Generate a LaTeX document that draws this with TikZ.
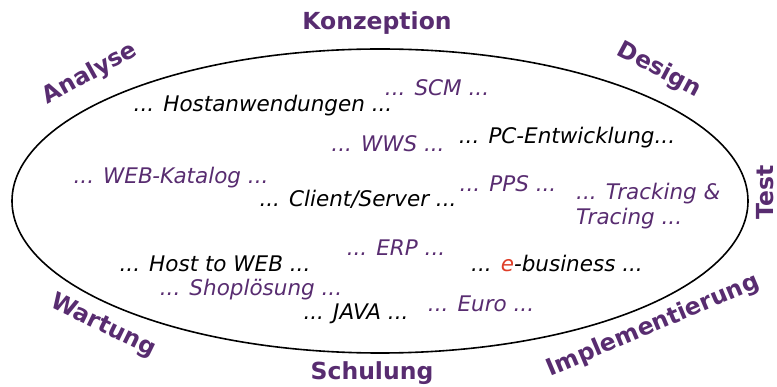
\documentclass[tikz,border=0pt]{standalone}
\usepackage{fontspec}
\setmainfont{DejaVu Sans}
\usepackage{xcolor}
\usepackage{tikz}
\usetikzlibrary{positioning,shapes.geometric}
\definecolor{lila}{RGB}{88,44,112}
\definecolor{ered}{RGB}{222,62,40}
\tikzset{
	phase/.style={text=lila, font=\bfseries\fontsize{23.5}{27}\selectfont, inner sep=0pt},
	thema/.style={text=lila, font=\itshape\fontsize{21.5}{25}\selectfont, inner sep=0pt, anchor=base},
	technik/.style={text=black, font=\itshape\fontsize{21.5}{25}\selectfont, inner sep=0pt, anchor=base},
	zyklus/.style={draw=black, line width=1.6pt, ellipse, inner sep=0pt}
}

\begin{document}
\begin{tikzpicture}[x=1pt,y=-1pt]
		\useasboundingbox (0,0) rectangle (777,387);
		\node[zyklus, minimum width=736pt, minimum height=304pt] (kreis) at (380,201) {};
		
		% Phasen rund um den Kreis
		\node[phase, anchor=base] (konzeption) at (377,30) {Konzeption};
		\node[phase, rotate=-28] (design) at (659,70) {Design};
		\node[phase, rotate=90] (test) at (765,192) {Test};
		\node[phase, rotate=23] (implementierung) at (653,326) {Implementierung};
		\node[phase, anchor=base] (schulung) at (372,380) {Schulung};
		\node[phase, rotate=-26] (wartung) at (103,326) {Wartung};
		\node[phase, rotate=29] (analyse) at (90,74) {Analyse};
		
		% Themen im Kreis
		\node[thema] (scm) at (437,96) {... SCM ...};
		\node[technik] (host) at (263,112) {... Hostanwendungen ...};
		\node[thema] (wws) at (388,152) {... WWS ...};
		\node[technik] (pc) at (567,144) {... PC-Entwicklung...};
		\node[thema] (katalog) at (171,184) {... WEB-Katalog ...};
		\node[technik] (cs) at (358,207) {... Client/Server ...};
		\node[thema] (pps) at (508,192) {... PPS ...};
		\node[thema, anchor=base west] (tracking) at (576,200) {... Tracking \&};
		\node[thema, anchor=base west] (tracing) at ([yshift=-25pt]tracking.base west) {Tracing ...};
		\node[thema] (erp) at (396,256) {... ERP ...};
		\node[technik] (hostweb) at (215,272) {... Host to WEB ...};
		\node[technik] (ebusiness) at (557,272) {... \textcolor{ered}{e}-business ...};
		\node[thema] (shop) at (251,296) {... Shoplösung ...};
		\node[technik] (java) at (356,320) {... JAVA ...};
		\node[thema] (euro) at (481,312) {... Euro ...};
	\end{tikzpicture}
\end{document}
